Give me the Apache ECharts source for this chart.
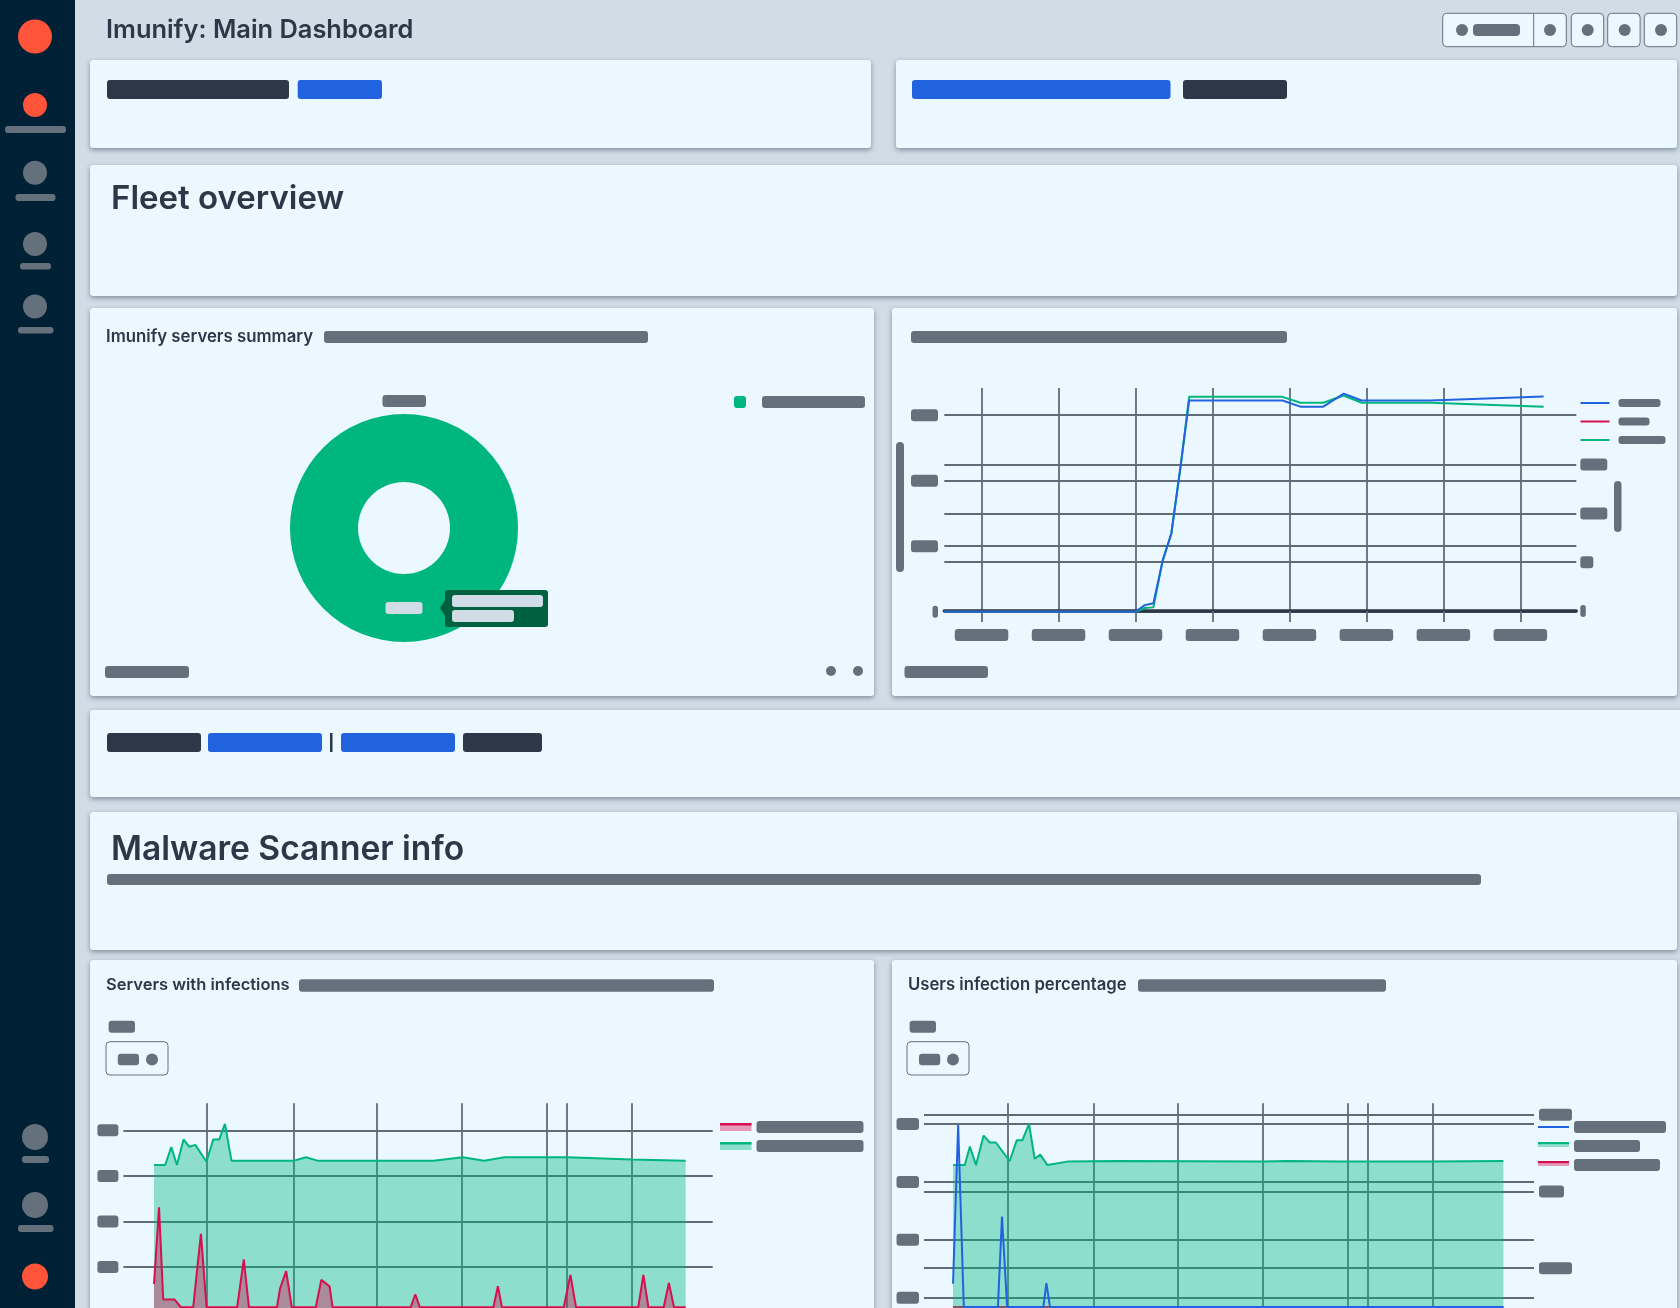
<!DOCTYPE html>
<html><head><meta charset="utf-8">
<script src="https://cdn.jsdelivr.net/npm/echarts@6/dist/echarts.min.js"></script>
<style>html,body{margin:0;padding:0;background:#d0dce6;overflow:hidden}#c{width:1680px;height:1308px}</style>
</head><body><div id="c"></div>
<script>
// ---------- data ----------
const fleetXTicks = [0,1,2,3,4,5,6,7];
const fleetLeftTicks = [0,100,200,300];
const fleetRightTicks = [0,100,200,300];
const fleetBlue = [[-0.484,0],[2,0],[2.12,10],[2.233,13],[2.353,78],[2.465,119],[2.585,221],[2.697,322.5],[3.91,322.5],[4.142,313],[4.44,313],[4.705,333],[4.937,322.5],[5.83,322.5],[7.303,328.6]];
const fleetRed = [[-0.484,0],[2,0]];
const fleetGreen = [[-0.484,0],[2,0],[2.12,5.6],[2.233,6.6],[2.353,78],[2.465,119],[2.585,221],[2.697,328],[3.91,328],[4.142,319],[4.44,319],[4.705,330],[4.937,319],[5.83,319],[7.303,313]];
const pieName = 'Protected';
const pieValue = 100;

const infectXTicks = [0,7.04,13.88,20.83,27.75,29.38,34.7];
const infectYTicks = [100,200,300,400];
const serversGreen = [[-4.33,324],[-3.42,324],[-2.92,363],[-2.46,324],[-1.92,380],[-1.46,364],[-0.96,368],[-0.04,331],[0.5,380],[1,380],[1.46,414],[2,333],[7.04,333],[8.08,341],[9.08,333],[18.5,333],[20.88,341],[22.63,333],[24.29,341],[29.38,341],[34.7,336],[39.08,333]];
const serversRed = [[-4.33,63],[-3.92,231],[-3.58,29],[-2.67,29],[-2.13,12],[-1.13,12],[-0.5,173],[-0.04,12],[2.46,12],[3,117],[3.42,12],[5.71,12],[5.96,53],[6.46,91],[6.92,12],[8.88,12],[9.33,72],[10,58],[10.25,12],[16.63,12],[17,40],[17.38,12],[23.38,12],[23.75,58],[24.08,12],[29.13,12],[29.67,83],[30.13,12],[35.21,12],[35.63,83],[36.04,12],[37.29,12],[37.71,65],[38.13,12],[39.08,12]];

const usersXTicks = [0,7.04,13.88,20.83,27.75,29.38,34.7];
const usersLeftTicks = [100,200,300,400];
const usersRightTicks = [100,200,300];
const usersGreen = [[-4.46,329],[-3.5,329],[-3.08,361],[-2.58,329],[-1.96,380],[-1.46,368],[-0.96,368],[0.17,336],[0.75,372],[1.21,372],[1.75,400],[2.21,340],[2.67,347],[3.25,329],[4.88,335],[9.04,336],[20.83,335],[22.92,336],[27.08,335],[34.7,335],[40.5,336]];
const usersBlue = [[-4.46,124],[-4.04,398],[-3.58,84],[-0.79,84],[-0.46,240],[-0.04,84],[2.92,84],[3.17,125],[3.46,84],[40.5,84]];
const usersRed = [[-4.46,84],[40.5,84]];

// ---------- styles ----------
const BG='#d0dce6',CARD='#ebf8ff',SIDE='#002135',INK='#2d3748',BLOB='#64717d',BLUE='#2163df',GREEN='#00b67f',RED='#d6104f',ORANGE='#ff533a',GRID='#5f6c78',SOFT='#d0dce6',FONT='Inter, "Noto Sans", sans-serif';
const blockRich = w => ({width:w,height:12,lineHeight:12,fontSize:8,backgroundColor:BLOB,borderRadius:3});
const thinRich = w => ({width:w,height:8,lineHeight:8,fontSize:8,backgroundColor:BLOB,borderRadius:3});
const richSet = {s4:{width:4,height:8,lineHeight:8,fontSize:8},s11:{width:11,height:12,lineHeight:12,fontSize:8},
  b5:blockRich(5.5),b13:blockRich(13),b21:blockRich(21),b22:blockRich(22.5),b25:blockRich(25),b27:blockRich(27),b33:blockRich(33),b53:blockRich(53.5),
  b107:blockRich(107),b92:blockRich(92),b66:blockRich(66),b86:blockRich(86),b103:blockRich(103),
  m42:thinRich(42),m31:thinRich(31),m47:thinRich(47),
  pie:{width:37,height:12,lineHeight:12,fontSize:8,backgroundColor:SOFT,borderRadius:3}};

// ---------- chrome ----------
const g=[];
const rect=(x,y,w,h,fill,r=3,z=1)=>g.push({type:'rect',silent:true,z,shape:{x,y,width:w,height:h,r},style:{fill}});
const dot=(cx,cy,r,fill,z=1)=>g.push({type:'circle',silent:true,z,shape:{cx,cy,r},style:{fill}});
const text=(x,y,t,size,weight)=>g.push({type:'text',silent:true,z:1,x,y,style:{text:t,fill:INK,font:`${weight} ${size}px ${FONT}`,textVerticalAlign:'middle'}});
const card=(x,y,w,h)=>g.push({type:'rect',silent:true,z:-5,shape:{x,y,width:w,height:h,r:3},style:{fill:CARD,shadowBlur:5,shadowOffsetY:2,shadowColor:'rgba(30,50,70,0.45)'}});
const outline=(x,y,w,h)=>g.push({type:'rect',silent:true,z:1,shape:{x,y,width:w,height:h,r:4},style:{fill:CARD,stroke:BLOB,lineWidth:1}});

// sidebar
rect(0,0,75,1308,SIDE,0,-4);
dot(35,36.5,17,ORANGE);
dot(35,105,12,ORANGE); rect(5,126,61,7,BLOB);
dot(35,172.7,12,BLOB); rect(15.5,194,40,7,BLOB);
dot(35,244,12,BLOB); rect(20,263,31,6.5,BLOB);
dot(35,306.6,12,BLOB); rect(18,327,35.5,6.5,BLOB);
dot(35,1137,13,BLOB); rect(22,1156,27,7,BLOB);
dot(35,1205,13,BLOB); rect(18,1225,35.5,7,BLOB);
dot(35,1276.5,13,ORANGE);

// header
text(106,30,'Imunify: Main Dashboard',25.4,600);
outline(1442.7,13.3,123.6,33.4); g.push({type:'line',silent:true,z:1,shape:{x1:1533.7,y1:13.3,x2:1533.7,y2:46.7},style:{stroke:BLOB,lineWidth:1}});
dot(1462,30,6,BLOB); rect(1473,24,47,12,BLOB,4); dot(1550,30,6,BLOB);
[[1571.3,1587.7],[1607.7,1624.7],[1644.3,1661]].forEach(([x,cx])=>{outline(x,13.3,32.4,33.4);dot(cx,30,6,BLOB);});

// cards
card(90,60,781,88); card(896,60,781,88); card(90,165,1587,131);
card(90,308,784,388); card(892,308,785,388); card(90,710,1595,87); card(90,812,1587,138);
card(90,960,784,360); card(892,960,785,360);

// banner placeholders
rect(107,80,182,19,INK); rect(297.7,80,84.3,19,BLUE);
rect(912,80,258.5,19,BLUE); rect(1183,80,104,19,INK);
rect(107,733,94,19,INK); rect(208,733,114,19,BLUE); rect(330,733,2.5,19,INK,0); rect(341,733,114,19,BLUE); rect(463,733,79,19,INK);

text(111,199,'Fleet overview',33,600);
text(111,850,'Malware Scanner info',33.6,600);
rect(107,874,1374,11,BLOB);

// summary card
text(106,337,'Imunify servers summary',16.8,600); rect(324,331,324,12,BLOB);
rect(382.5,395,43.5,12,BLOB);
rect(105,666,84,12,BLOB); dot(831,671,5,BLOB); dot(858,671,5,BLOB);
// pinned tooltip
rect(445,590,103,37,'#00603f',3,50);
g.push({type:'polygon',silent:true,z:50,shape:{points:[[445,600],[440,608],[445,616]]},style:{fill:'#00603f'}});
rect(452,595,91,12,SOFT,3,51); rect(452,610,62,12,SOFT,3,51);

// fleet line card
rect(911,331,376,12,BLOB); rect(904.5,666,83.5,12,BLOB);
rect(896,442,8,130,BLOB,4); rect(1614,481,7.5,51,BLOB,4);

// lower cards
text(106,985,'Servers with infections',16.5,600); rect(299,979.3,415,12.4,BLOB);
rect(108.6,1020.7,26.4,12,BLOB); outline(106,1041.7,62,33.3); rect(117.8,1053.7,21.2,11.6,BLOB); dot(152,1059.5,6,BLOB);
text(908,985,'Users infection percentage',16.7,600); rect(1138,979.3,248,12.4,BLOB);
rect(909.6,1020.7,26.4,12,BLOB); outline(907,1041.7,62,33.3); rect(919,1053.7,21.2,11.6,BLOB); dot(953,1059.5,6,BLOB);
// legend swatch top strokes
rect(720,1123,31.5,2.5,RED,0,5); rect(720,1142,31.5,2.5,GREEN,0,5);
rect(1538,1142,31,2.5,GREEN,0,5); rect(1538,1161,31,2.5,RED,0,5);

// ---------- axis helpers ----------
const grid=(left,top,width,height)=>({left,top,width,height,containLabel:false,outerBoundsMode:'none',show:false});
const splitLine={show:true,lineStyle:{color:GRID,width:1.8}};
const xA=(gridIndex,min,max,ticks,labelFn,extra={})=>Object.assign({type:'value',gridIndex,min,max,
  axisLine:{show:false},axisTick:{show:false,customValues:ticks},splitLine,
  axisLabel:{show:false,customValues:ticks}},extra);
const yA=(gridIndex,pos,min,max,ticks,margin,blockFor,showSplit=true)=>({type:'value',gridIndex,position:pos,min,max,
  axisLine:{show:false},axisTick:{show:false,customValues:ticks},splitLine:Object.assign({},splitLine,{show:showSplit}),
  axisLabel:{show:true,customValues:ticks,margin,formatter:v=>`{${blockFor(v)}| }`,rich:richSet}});
const line=(name,xAxisIndex,yAxisIndex,data,color,area,z=3)=>({type:'line',name,xAxisIndex,yAxisIndex,data,z,showSymbol:false,symbol:'none',
  lineStyle:{color,width:2},itemStyle:{color},areaStyle:area?{color,opacity:0.4}:undefined,animation:false,silent:true});
const legend=(left,top,items,gap,icon='rect')=>({show:true,orient:'vertical',left,top,padding:0,itemGap:gap,selectedMode:false,
  data:items.map(it=>({name:it.name,icon,itemStyle:{color:it.color,opacity:1,borderWidth:0}})),
  itemWidth:items[0].w,itemHeight:items[0].h,
  formatter:n=>{const it=items.find(i=>i.name===n);return (it.spacer?`{${it.spacer}| }`:'')+`{${it.block}| }`;},
  textStyle:{rich:richSet,color:BLOB,fontSize:8,lineHeight:8}});

const option={
  animation:false,backgroundColor:BG,
  graphic:{elements:g},
  grid:[grid(944.3,388,632,223.7),grid(123.4,1103.3,589.3,209.4),grid(924,1103.3,610,252.3)],
  xAxis:[
    xA(0,-0.484,7.727,fleetXTicks,null,{offset:-0.7,
      axisLine:{show:true,onZero:false,lineStyle:{color:INK,width:3.5}},
      axisTick:{show:true,length:11,lineStyle:{color:GRID,width:1.8},customValues:fleetXTicks},
      axisLabel:{show:true,customValues:fleetXTicks,margin:18,formatter:()=>'{b53| }',rich:richSet}}),
    xA(1,-6.83,41.29,infectXTicks),
    xA(2,-6.83,43.0,usersXTicks)
  ],
  yAxis:[
    yA(0,'left',0,341.5,fleetLeftTicks,6.3,v=>v===0?'b5':'b27'),
    yA(0,'right',-1.4,457,fleetRightTicks,4,v=>v===0?'b5':(v===100?'b13':'b27')),
    yA(1,'left',0,459.2,infectYTicks,5,()=>'b21'),
    yA(2,'left',0,435.7,usersLeftTicks,5,()=>'b22'),
    yA(2,'right',-14,315,usersRightTicks,5,v=>v===200?'b25':'b33')
  ],
  legend:[
    legend(1580.5,399,[{name:'Fleet blue',color:BLUE,w:29,h:2,block:'m42',spacer:'s4'},{name:'Fleet red',color:RED,w:29,h:2,block:'m31',spacer:'s4'},{name:'Fleet green',color:GREEN,w:29,h:2,block:'m47',spacer:'s4'}],10.5),
    legend(734,396,[{name:pieName,color:GREEN,w:12,h:12,block:'b103',spacer:'s11'}],0,'roundRect'),
    legend(720,1121,[{name:'Servers red',color:'rgba(214,16,79,0.4)',w:31.5,h:8,block:'b107'},{name:'Servers green',color:'rgba(0,182,127,0.4)',w:31.5,h:8,block:'b107'}],7),
    legend(1538,1121,[{name:'Users blue',color:BLUE,w:31,h:2,block:'b92'},{name:'Users green',color:'rgba(0,182,127,0.4)',w:31,h:8,block:'b66'},{name:'Users red',color:'rgba(214,16,79,0.4)',w:31,h:8,block:'b86'}],7)
  ],
  series:[
    line('Fleet red',0,0,fleetRed,RED,false,3),
    line('Fleet green',0,0,fleetGreen,GREEN,false,4),
    line('Fleet blue',0,0,fleetBlue,BLUE,false,5),
    {type:'pie',name:'Summary',center:[404,528],radius:[46,114],silent:true,animation:false,
     label:{show:true,position:'inside',offset:[0,-3],formatter:()=>'{pie| }',rich:richSet},labelLine:{show:false},
     itemStyle:{color:GREEN},data:[{name:pieName,value:pieValue}]},
    line('Servers green',1,2,serversGreen,GREEN,true,3),
    line('Servers red',1,2,serversRed,RED,true,4),
    line('Users red',2,3,usersRed,RED,true,3),
    line('Users green',2,3,usersGreen,GREEN,true,4),
    line('Users blue',2,3,usersBlue,BLUE,false,5)
  ]
};
const chart=echarts.init(document.getElementById('c'),null,{width:1680,height:1308});
chart.setOption(option);
</script></body></html>
